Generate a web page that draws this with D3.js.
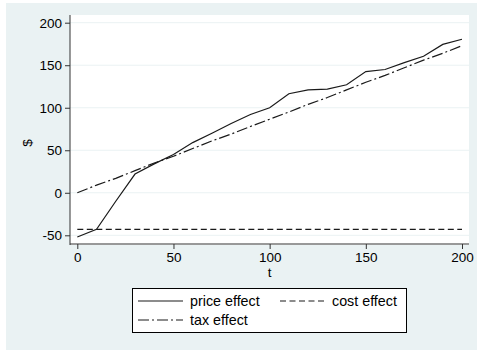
<!DOCTYPE html>
<html>
<head>
<meta charset="utf-8">
<script src="https://cdn.jsdelivr.net/npm/d3@7"></script>
<style>
  html, body { margin: 0; padding: 0; background: #ffffff; }
  svg { display: block; font-family: "Liberation Sans", Arial, sans-serif; }
</style>
</head>
<body>
<svg id="chart" width="477" height="350"></svg>
<script>
// Time grid (t) and the three effect series, one value per step of 10
const tValues = [0, 10, 20, 30, 40, 50, 60, 70, 80, 90, 100, 110, 120, 130, 140, 150, 160, 170, 180, 190, 200];
const priceEffect = [-52, -43, -10, 22, 34, 45, 59, 70, 81.5, 92, 100, 116.5, 121, 122, 127, 142.5, 145, 153, 160.5, 174.5, 180.5];
const costEffect = [-43, -43, -43, -43, -43, -43, -43, -43, -43, -43, -43, -43, -43, -43, -43, -43, -43, -43, -43, -43, -43];
const taxEffect = [0, 9, 17, 26, 35, 43, 52, 61, 69, 78, 86.5, 95, 104, 112, 121, 130, 138, 147, 156, 164, 173];

const xTicks = [0, 50, 100, 150, 200];
const yTicks = [-50, 0, 50, 100, 150, 200];

const seriesNames = ["price effect", "cost effect", "tax effect"];
const seriesDash = ["none", "6,3.5", "11,3,2,3"];

const svg = d3.select("#chart");
const W = 477, H = 350;

// outer graph region
svg.append("rect").attr("x", 6).attr("y", 3).attr("width", W - 6).attr("height", H - 3)
  .attr("fill", "#eaf2f3");

// plot region
const plot = { left: 70, top: 15, right: 469, bottom: 245 };
svg.append("rect").attr("x", plot.left).attr("y", plot.top)
  .attr("width", plot.right - plot.left).attr("height", plot.bottom - plot.top)
  .attr("fill", "#ffffff");

const x = d3.scaleLinear().domain([0, 200]).range([77.3, 462]);
const y = d3.scaleLinear().domain([-50, 200]).range([235.3, 22.7]);

// tick labels use a plain hyphen for negatives
const fmt = d => String(d);

// horizontal gridlines
svg.append("g").selectAll("line").data(yTicks).join("line")
  .attr("x1", plot.left).attr("x2", plot.right)
  .attr("y1", d => y(d)).attr("y2", d => y(d))
  .attr("stroke", "#eaf2f3").attr("stroke-width", 1);

// y axis
const yAxis = svg.append("g").attr("transform", `translate(${plot.left},0)`)
  .call(d3.axisLeft(y).tickValues(yTicks).tickSize(5).tickPadding(3).tickFormat(fmt));
yAxis.select(".domain").attr("d", `M0,${plot.top}V${plot.bottom}`).attr("stroke", "#333");
yAxis.selectAll(".tick line").attr("stroke", "#333");
yAxis.selectAll(".tick text").attr("font-size", 13.5).attr("fill", "#000")
  .attr("font-family", "Liberation Sans, Arial, sans-serif");

// x axis
const xAxis = svg.append("g").attr("transform", `translate(0,${plot.bottom - 1})`)
  .call(d3.axisBottom(x).tickValues(xTicks).tickSize(5).tickPadding(3).tickFormat(fmt));
xAxis.select(".domain").attr("d", `M${plot.left},0H${plot.right}`).attr("stroke", "#333");
xAxis.selectAll(".tick line").attr("stroke", "#333");
xAxis.selectAll(".tick text").attr("font-size", 13.5).attr("fill", "#000")
  .attr("font-family", "Liberation Sans, Arial, sans-serif");

// axis titles
svg.append("text").attr("x", x(100)).attr("y", 277).attr("text-anchor", "middle")
  .attr("font-size", 13.5).text("t");
svg.append("text").attr("transform", `translate(32,${(plot.top + plot.bottom) / 2 + 13}) rotate(-90)`)
  .attr("text-anchor", "middle").attr("font-size", 13.5).text("$");

// series lines
const series = [priceEffect, costEffect, taxEffect];
const line = d3.line().x((d, i) => x(tValues[i])).y(d => y(d));
series.forEach((vals, k) => {
  svg.append("path").datum(vals)
    .attr("d", line)
    .attr("fill", "none")
    .attr("stroke", "#1a1a1a")
    .attr("stroke-width", 1.2)
    .attr("stroke-dasharray", seriesDash[k]);
});

// legend
const lg = svg.append("g");
lg.append("rect").attr("x", 132.5).attr("y", 288.5).attr("width", 274).attr("height", 44)
  .attr("fill", "#ffffff").attr("stroke", "#000").attr("stroke-width", 1);
const legendPos = [
  { x: 138, y: 301 },
  { x: 280, y: 301 },
  { x: 138, y: 320 }
];
seriesNames.forEach((name, k) => {
  const p = legendPos[k];
  lg.append("line").attr("x1", p.x).attr("x2", p.x + 45).attr("y1", p.y).attr("y2", p.y)
    .attr("stroke", "#1a1a1a").attr("stroke-width", 1.2).attr("stroke-dasharray", seriesDash[k]);
  lg.append("text").attr("x", p.x + 52).attr("y", p.y + 4.8).attr("font-size", 14.3)
    .attr("fill", "#000").text(name);
});
</script>
</body>
</html>
